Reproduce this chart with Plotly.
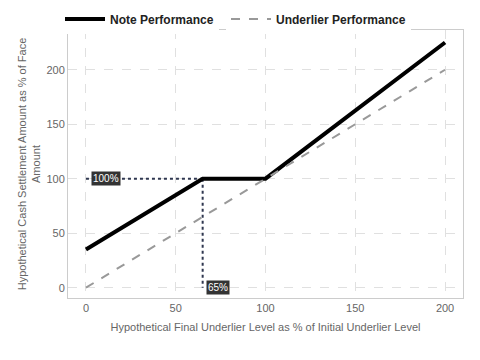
import plotly.graph_objects as go

underlier_x = [0, 65, 100, 200]
note_y = [35, 100, 100, 225]
underlier_y = [0, 65, 100, 200]
barrier_x = 65
cap_y = 100
x_ticks = [0, 50, 100, 150, 200]
y_ticks = [0, 50, 100, 150, 200]

fig = go.Figure()
fig.add_trace(go.Scatter(x=[0, barrier_x], y=[cap_y, cap_y], mode="lines",
                         line=dict(color="#2f3750", width=2, dash="dot"),
                         showlegend=False, hoverinfo="skip"))
fig.add_trace(go.Scatter(x=[barrier_x, barrier_x], y=[cap_y, 0], mode="lines",
                         line=dict(color="#2f3750", width=2, dash="dot"),
                         showlegend=False, hoverinfo="skip"))
fig.add_trace(go.Scatter(x=underlier_x, y=note_y, mode="lines", name="Note Performance",
                         line=dict(color="#000000", width=4), legend="legend"))
fig.add_trace(go.Scatter(x=underlier_x, y=underlier_y, mode="lines", name="Underlier Performance",
                         line=dict(color="#999999", width=2, dash="dash"), legend="legend2"))

fig.add_annotation(x=0, y=cap_y, text="100%", showarrow=False, xanchor="left", xshift=5,
                   font=dict(color="white", size=10, family="Liberation Sans"),
                   bgcolor="#333333", borderpad=1)
fig.add_annotation(x=barrier_x, y=0, text="65%", showarrow=False, xanchor="left", xshift=3,
                   font=dict(color="white", size=10, family="Liberation Sans"),
                   bgcolor="#333333", borderpad=1)

axis_common = dict(showgrid=True, gridcolor="#e0e0e0", griddash="dash", gridwidth=1,
                   showline=True, linecolor="#cccccc", linewidth=1, mirror=True,
                   ticks="", automargin=False,
                   tickfont=dict(color="#666666", size=11), zeroline=False)

legend_common = dict(orientation="h", xanchor="left", xref="container",
                     y=1 - 19 / 360, yanchor="middle", yref="container",
                     font=dict(size=12, color="#222222", weight="bold"), itemwidth=40)

fig.update_layout(
    width=480, height=360,
    paper_bgcolor="white", plot_bgcolor="white",
    font=dict(family="Liberation Sans", color="#666666"),
    margin=dict(l=68, r=17, t=30, b=62, autoexpand=False),
    legend=dict(x=60 / 480, **legend_common),
    legend2=dict(x=226 / 480, **legend_common),
    xaxis=dict(range=[-10, 210], tickvals=x_ticks,
               title=dict(text="Hypothetical Final Underlier Level as % of Initial Underlier Level",
                          font=dict(size=11, color="#666666"), standoff=10),
               **axis_common),
    yaxis=dict(range=[-9.5, 236.5], tickvals=y_ticks,
               title=dict(text="Hypothetical Cash Settlement Amount as % of Face<br>Amount",
                          font=dict(size=11, color="#666666"), standoff=3),
               **axis_common),
)
fig.write_html("out.html", config={"displayModeBar": False},
               post_script="document.body.style.margin='0px';")
